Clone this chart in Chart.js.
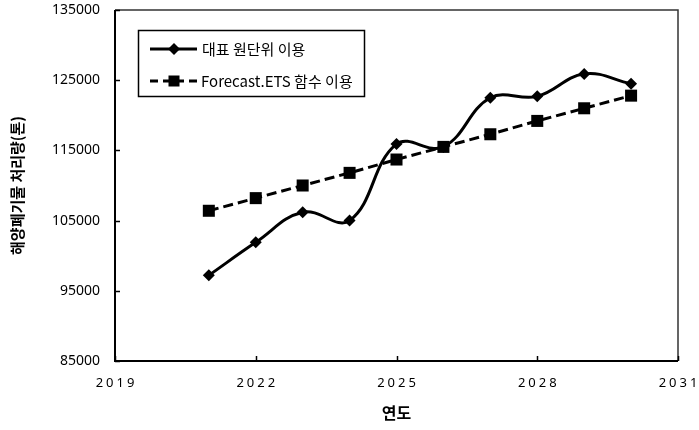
<!DOCTYPE html>
<html>
<head>
<meta charset="utf-8">
<script src="https://cdn.jsdelivr.net/npm/chart.js@4"></script>
<style>
html, body { margin: 0; padding: 0; background: #fff; }
#wrap { width: 699px; height: 430px; }
</style>
</head>
<body>
<div id="wrap"><canvas id="wasteChart" width="699" height="430"></canvas></div>
<script>
// values
const years = [2021, 2022, 2023, 2024, 2025, 2026, 2027, 2028, 2029, 2030];
const unitBased = [97200, 101900, 106200, 105000, 115900, 115500, 122500, 122700, 125900, 124500];
const etsForecast = [106400, 108200, 110000, 111800, 113700, 115500, 117300, 119200, 121000, 122800];
const seriesNames = ['대표 원단위 이용', 'Forecast.ETS 함수 이용'];
const xTitle = '연도';
const yTitle = '해양폐기물 처리량(톤)';

const KR_FONT = '"Noto Sans CJK KR", "Noto Sans", sans-serif';
const NUM_FONT = '"Noto Sans", "DejaVu Sans", sans-serif';

// frame, inside tick marks and spaced x labels
const framePlugin = {
    id: 'frame',
    beforeDatasetsDraw(chart) {
        const ctx = chart.ctx;
        const a = chart.chartArea;
        const xs = chart.scales.x;
        const ys = chart.scales.y;
        ctx.save();
        // top + right border (a bit lighter)
        ctx.strokeStyle = '#333';
        ctx.lineWidth = 1.5;
        ctx.beginPath();
        ctx.moveTo(a.left, a.top);
        ctx.lineTo(a.right, a.top);
        ctx.lineTo(a.right, a.bottom);
        ctx.stroke();
        // left + bottom axis lines
        ctx.strokeStyle = '#000';
        ctx.lineWidth = 2;
        ctx.beginPath();
        ctx.moveTo(a.left, a.top);
        ctx.lineTo(a.left, a.bottom);
        ctx.lineTo(a.right, a.bottom);
        ctx.stroke();
        // tick marks pointing inward
        ctx.lineWidth = 1.5;
        ctx.beginPath();
        xs.ticks.forEach(t => {
            const px = Math.round(xs.getPixelForValue(t.value)) + 0.5;
            ctx.moveTo(px, a.bottom);
            ctx.lineTo(px, a.bottom - 5);
        });
        ys.ticks.forEach(t => {
            const py = Math.round(ys.getPixelForValue(t.value)) + 0.5;
            ctx.moveTo(a.left, py);
            ctx.lineTo(a.left + 5, py);
        });
        ctx.stroke();
        // x tick labels, letter spaced like the original
        ctx.fillStyle = '#000';
        ctx.font = '13px ' + NUM_FONT;
        ctx.textBaseline = 'middle';
        ctx.textAlign = 'left';
        const spacing = 3;
        if ('letterSpacing' in ctx) ctx.letterSpacing = spacing + 'px';
        xs.ticks.forEach(t => {
            const label = String(t.value);
            const w = ctx.measureText(label).width - ('letterSpacing' in ctx ? spacing : 0);
            const px = xs.getPixelForValue(t.value);
            ctx.fillText(label, px - w / 2, 383);
        });
        ctx.restore();
    },
    afterDraw(chart) {
        // legend box drawn by hand so it can show line + marker
        const ctx = chart.ctx;
        ctx.save();
        ctx.fillStyle = '#fff';
        ctx.fillRect(138, 30, 227, 67);
        ctx.strokeStyle = '#000';
        ctx.lineWidth = 1.5;
        ctx.strokeRect(138.5, 30.5, 226, 66);

        ctx.lineWidth = 3;
        ctx.beginPath();
        ctx.moveTo(150, 49);
        ctx.lineTo(197, 49);
        ctx.stroke();
        ctx.fillStyle = '#000';
        ctx.beginPath();
        ctx.moveTo(174, 43);
        ctx.lineTo(180, 49);
        ctx.lineTo(174, 55);
        ctx.lineTo(168, 49);
        ctx.closePath();
        ctx.fill();

        ctx.setLineDash([8, 5]);
        ctx.beginPath();
        ctx.moveTo(150, 81);
        ctx.lineTo(198, 81);
        ctx.stroke();
        ctx.setLineDash([]);
        ctx.fillRect(168.5, 75.5, 11, 11);

        ctx.font = '15px ' + KR_FONT;
        ctx.textBaseline = 'middle';
        ctx.textAlign = 'left';
        ctx.fillText(seriesNames[0], 202, 49);
        ctx.fillText(seriesNames[1], 201, 81);
        ctx.restore();
    }
};

function renderWasteChart() {
    const ctx = document.getElementById('wasteChart').getContext('2d');
    new Chart(ctx, {
        type: 'line',
        data: {
            datasets: [{
                label: seriesNames[0],
                data: years.map((yr, i) => ({ x: yr, y: unitBased[i] })),
                borderColor: '#000',
                backgroundColor: '#000',
                borderWidth: 3,
                tension: 0.4,
                pointStyle: 'rectRot',
                pointRadius: 6,
                pointBorderWidth: 0,
                fill: false
            }, {
                label: seriesNames[1],
                data: years.map((yr, i) => ({ x: yr, y: etsForecast[i] })),
                borderColor: '#000',
                backgroundColor: '#000',
                borderWidth: 3,
                borderDash: [10, 5],
                tension: 0,
                pointStyle: 'rect',
                pointRadius: 8.5,
                pointBorderWidth: 0,
                fill: false
            }]
        },
        options: {
            responsive: false,
            animation: false,
            devicePixelRatio: 1,
            layout: { padding: { top: 0, right: 21, left: 0, bottom: 0 } },
            plugins: {
                legend: { display: false },
                tooltip: { enabled: false }
            },
            scales: {
                x: {
                    type: 'linear',
                    min: 2019,
                    max: 2031,
                    ticks: { stepSize: 3, display: false },
                    grid: { display: false, drawTicks: false },
                    border: { display: false },
                    title: {
                        display: true,
                        text: xTitle,
                        color: '#000',
                        font: { family: KR_FONT, size: 16, weight: 'bold' },
                        padding: { top: 0, bottom: 7 }
                    },
                    afterFit: scale => { scale.height = 69; }
                },
                y: {
                    min: 85000,
                    max: 135000,
                    ticks: {
                        stepSize: 10000,
                        color: '#000',
                        padding: 15,
                        font: { family: NUM_FONT, size: 14 },
                        callback: value => String(value)
                    },
                    grid: { display: false, drawTicks: false },
                    border: { display: false },
                    title: {
                        display: true,
                        text: yTitle,
                        color: '#000',
                        font: { family: KR_FONT, size: 15, weight: 'bold' },
                        padding: { top: 8, bottom: 0 }
                    },
                    afterFit: scale => {
                        scale.width = 115;
                        scale.paddingTop = 10;
                        scale.paddingBottom = 0;
                    }
                }
            }
        },
        plugins: [framePlugin]
    });
}

renderWasteChart();
</script>
</body>
</html>
